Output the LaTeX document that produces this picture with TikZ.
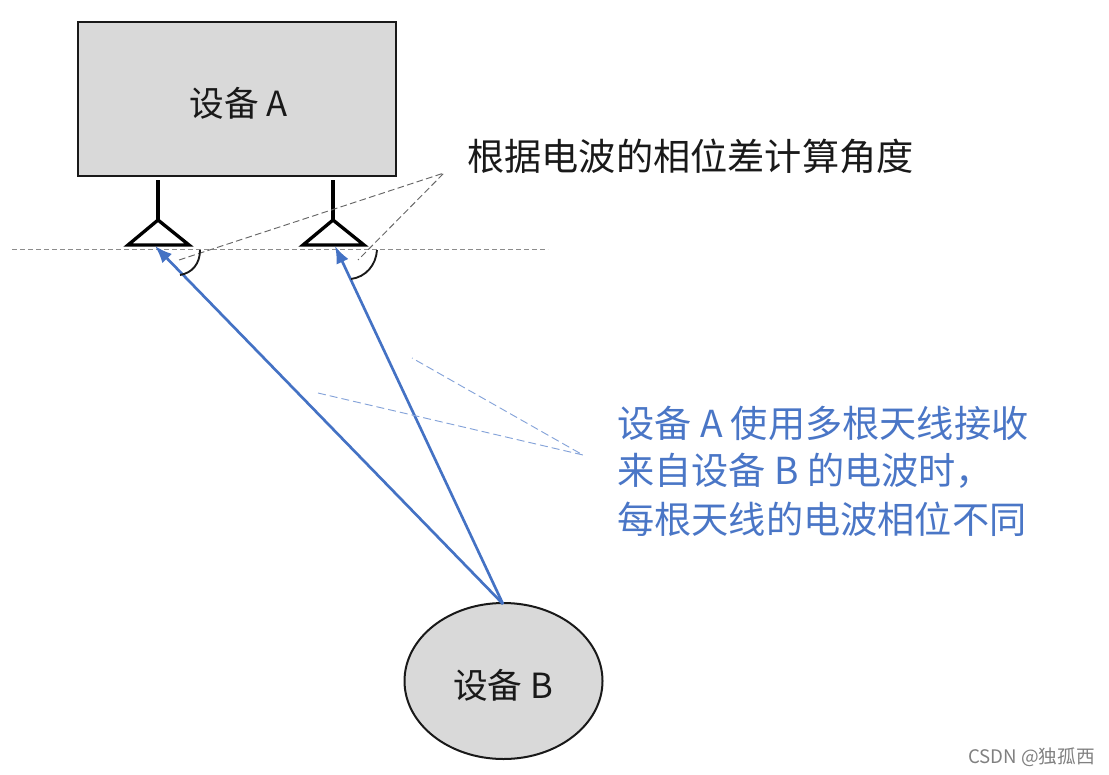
\documentclass[tikz,border=0pt]{standalone}
\usepackage{fontspec}
\setmainfont{Noto Sans CJK SC}
\usetikzlibrary{shapes.geometric,arrows.meta}
\definecolor{bl}{HTML}{4472C4}
\definecolor{tb}{HTML}{4A76C6}
\definecolor{bx}{HTML}{D9D9D9}
\tikzset{
 x=0.75pt,y=-0.75pt,
 devbox/.style={draw=black!90,line width=1.9pt,fill=bx,inner sep=0pt},
 lbl/.style={font=\fontsize{26pt}{35pt}\selectfont,text=black!90,inner sep=0pt},
 lblwide/.style={font=\fontsize{27.9pt}{35pt}\selectfont,text=black!90,inner sep=0pt},
 bluelbl/.style={font=\fontsize{27.9pt}{43pt}\selectfont,text=tb,inner sep=0pt,align=left},
 feed/.style={line width=2.4pt,black},
 ant/.style={line width=2.5pt,black,line join=miter},
 sig/.style={line width=2pt,bl,-{Latex[length=13pt,width=10pt]}},
 ang/.style={line width=1.4pt,black!90},
 lead/.style={dash pattern=on 5pt off 2.5pt,line width=0.7pt,black!60},
 leadb/.style={dash pattern=on 6pt off 3pt,line width=0.7pt,bl!65},
 base/.style={dash pattern=on 3.5pt off 2.5pt,line width=0.6pt,black!45}
}
\begin{document}
\begin{tikzpicture}
\useasboundingbox (0,0) rectangle (1109,774);
\node[devbox,minimum width=238.5pt,minimum height=115.5pt] (A) at (237,99) {};
\node[lbl] (Alabel) at (238.5,103) {设备 A};
\node[devbox,ellipse,line width=1.5pt,minimum width=148.5pt,minimum height=117pt] (B) at (503.5,681) {};
\node[lbl] (Blabel) at (503,685) {设备 B};
\coordinate (f1) at (158,180);
\coordinate (t1) at (158,220);
\coordinate (l1) at (128,245);
\coordinate (r1) at (189,245);
\coordinate (f2) at (333,180);
\coordinate (t2) at (333,220);
\coordinate (l2) at (303,245);
\coordinate (r2) at (364,245);
\coordinate (h1) at (12,249);
\coordinate (h2) at (548,249);
\coordinate (src) at (503,604);
\coordinate (a1) at (155,246);
\coordinate (a2) at (335,246);
\draw[base] (h1) -- (h2);
\draw[feed] (f1) -- (t1);
\draw[feed] (f2) -- (t2);
\draw[ant] (l1) -- (t1) -- (r1) -- cycle;
\draw[ant] (l2) -- (t2) -- (r2) -- cycle;
\draw[sig] (src) -- (a1);
\draw[sig] (src) -- (a2);
\coordinate (ap) at (444,173);
\coordinate (e1) at (179,260);
\coordinate (e2) at (358,260);
\draw[lead] (e1) -- (ap) -- (e2);
\coordinate (c1s) at (200,250);
\coordinate (c1e) at (180,275);
\coordinate (c2s) at (377,250);
\coordinate (c2e) at (351,279);
\draw[ang] (c1s) .. controls (200,264) and (192,273) .. (c1e);
\draw[ang] (c2s) .. controls (376,265) and (366,277) .. (c2e);
\node[lblwide,anchor=west] (angle) at (467,156) {根据电波的相位差计算角度};
\coordinate (bp) at (583,455);
\coordinate (b1) at (318,393);
\coordinate (b2) at (412,358);
\draw[leadb] (b1) -- (bp) -- (b2);
\node[bluelbl,anchor=west] (bt1) at (617,423) {设备 A 使用多根天线接收};
\node[bluelbl,anchor=west] (bt2) at (617,471) {来自设备 B 的电波时，};
\node[bluelbl,anchor=west] (bt3) at (617,519) {每根天线的电波相位不同};
\node[anchor=east,inner sep=0pt,font=\fontsize{14pt}{16pt}\selectfont,text=black!50] (wm) at (1095,757) {CSDN @独孤西};
\end{tikzpicture}
\end{document}
